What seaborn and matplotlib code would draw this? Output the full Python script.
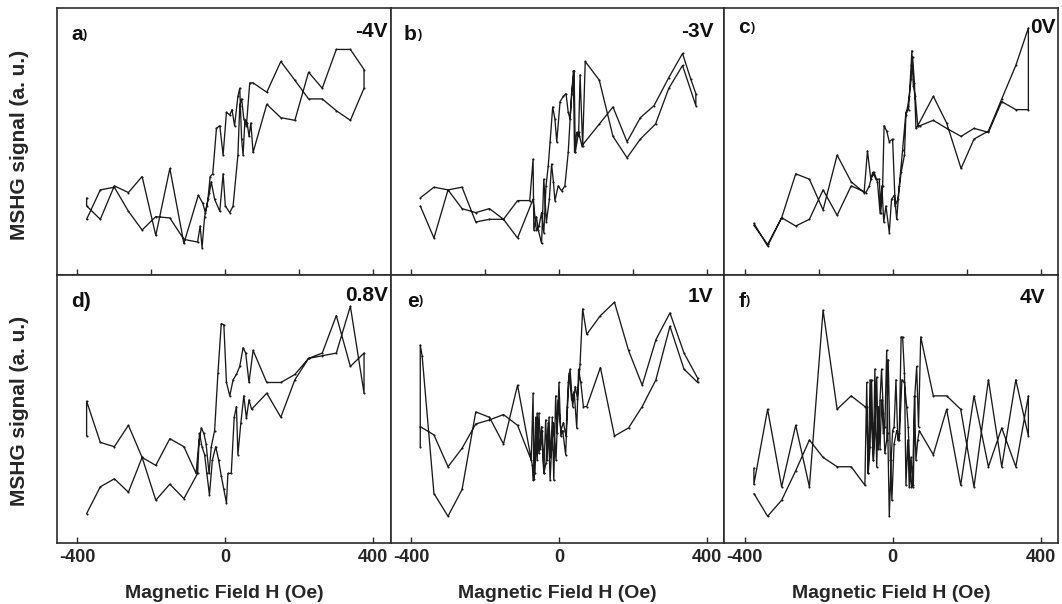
import matplotlib
matplotlib.use("Agg")
import matplotlib.pyplot as plt
import seaborn as sns
import pandas as pd

# ---------------- data (H in Oe, MSHG signal in a.u.) ----------------
# panel a) -4V
a_fwd_h = [-375, -338, -300, -262, -225, -188, -150, -112, -75,
           -68, -63, -56, -50, -43, -38, -29, -15, -6, 0, 12, 21, 34, 39, 44, 50, 57, 66,
           75, 112, 150, 188, 225, 262, 300, 338, 375]
a_fwd_s = [21, 32, 33, 24, 17, 22, 21.5, 13.5, 12.5,
           18.5, 10.4, 22, 26, 31, 35, 28.5, 24, 38, 26, 23.5, 26, 45, 63.5, 66, 58.5, 56, 72,
           72, 68.5, 80, 73, 66, 66, 61.6, 58, 70]
a_bwd_h = [375, 338, 300, 262, 225, 188, 150, 112, 75,
           69, 64, 59, 53, 48, 44, 39, 34, 25, 18, 12, 3, -6, -15, -24, -34, -41, -47, -54, -61, -73,
           -112, -150, -188, -225, -262, -300, -338, -375, -375]
a_bwd_s = [77, 84.5, 84.5, 70, 76, 58, 59, 64, 46,
           57, 52, 57, 58, 45, 51, 70, 67, 56, 62, 60, 61, 45, 56, 55, 38, 37, 28.5, 23.5, 27, 30,
           12, 40, 15, 37, 31, 33.5, 21, 26, 29]

# panel b) -3V
b_fwd_h = [-375, -338, -300, -262, -225, -188, -150, -112, -79,
           -70, -68, -61, -56, -47, -41, -34, -26, -20, -15, -11, -2, 7, 16, 25, 34, 41, 44, 53, 62,
           109, 146, 184, 220, 257, 297, 334, 356, 370]
b_fwd_s = [26, 14, 32, 25, 23.5, 25, 21, 28, 28,
           43.5, 17, 22, 17, 12, 36, 20, 28.5, 41.6, 35, 28, 33.5, 31.6, 33.5, 46, 68, 76.6, 46, 53.5, 48.5,
           56.6, 63, 50, 59, 63.5, 74, 83, 73.5, 68]
b_bwd_h = [370, 334, 297, 261, 220, 184, 146, 109, 71,
           64, 57, 53, 48, 42, 39, 30, 25, 19, 12, 3, -6, -11, -17, -24, -29, -35, -41, -47, -54, -61, -70,
           -112, -150, -188, -225, -262, -300, -338, -375]
b_bwd_s = [63.5, 78.5, 70, 56.6, 51, 44, 52, 73, 80,
           48.5, 75, 52, 53.5, 46, 76.6, 58.5, 61, 68, 67, 65, 50, 58.5, 63, 50, 41, 33.5, 16, 23.5, 18.5, 17, 28.5,
           14, 21, 21, 20, 33, 32, 33, 29]

# panel c) 0V
c_fwd_h = [-375, -338, -300, -262, -225, -188, -150, -112, -77,
           -68, -59, -50, -41, -34, -29, -24, -18, -9, -3, 5, 11, 18, 27, 36, 43, 50, 52, 56, 61, 68,
           110, 146, 185, 220, 259, 295, 333, 367]
c_fwd_s = [19.5, 11, 21.6, 38, 36, 24.5, 45, 35, 31,
           46.6, 36, 38.5, 35, 23.5, 33.5, 20, 26, 16, 28.5, 30, 21, 33.5, 47, 61, 62, 78.5, 84, 71, 67, 56,
           67, 57, 40, 51, 54, 66, 78.5, 92.5]
c_bwd_h = [367, 333, 295, 259, 220, 185, 146, 110, 74,
           68, 63, 59, 54, 50, 45, 41, 36, 32, 23, 14, 7, 0, -9, -16, -23, -27, -32, -36, -45, -54, -63, -72,
           -112, -150, -188, -225, -262, -300, -338, -375]
c_bwd_s = [62, 62, 65, 53.5, 55, 52, 55, 58, 56,
           56, 55, 72, 81.6, 73.5, 67, 63.5, 60, 45, 38.5, 28.5, 26, 51, 50, 54, 56, 33.5, 23.5, 36, 36, 38.5, 33.5, 31,
           33.5, 22.5, 32, 21, 18.5, 21.6, 11.6, 18.75]

# panel d) 0.8V
d_fwd_h = [-375, -338, -300, -262, -225, -188, -150, -112, -75,
           -70, -63, -56, -50, -43, -35, -26, -18, -11, -4, 3, 7, 16, 24, 30, 34, 42, 50, 57, 64, 71,
           112, 150, 188, 225, 262, 300, 338, 375]
d_fwd_s = [11, 21, 24, 19, 32, 16, 22, 16.6, 26,
           41, 36, 33, 26, 18, 31, 36, 31, 25, 20, 15, 26, 26, 47, 51, 33, 45, 55, 46.6, 53.5, 50,
           56, 47, 61, 69, 71, 85, 66, 71]
d_bwd_h = [375, 338, 300, 262, 225, 188, 150, 112, 75,
           64, 55, 48, 39, 30, 21, 12, 3, -4, -11, -20, -29, -38, -44, -52, -58, -65, -72, -79,
           -112, -150, -188, -225, -262, -300, -338, -375, -375]
d_bwd_s = [56, 88.5, 71, 70, 69, 63, 60, 60, 72,
           60, 71, 73, 66, 63, 61, 55, 60, 81.6, 82, 63.5, 42, 36, 26, 37, 41, 43, 37, 26,
           36, 39, 29, 32, 44, 36, 37.6, 53, 40]

# panel e) 1V
e_fwd_h = [-375, -338, -300, -262, -225, -188, -150, -112, -75,
           -70, -68, -63, -59, -54, -50, -45, -41, -36, -32, -27, -23, -18, -14, -9, -5, 0, 5, 10, 18,
           23, 28, 34, 41, 48, 53, 59, 66,
           75, 112, 150, 188, 225, 262, 300, 338, 375]
e_fwd_s = [43.5, 40.4, 28.5, 35.4, 44.5, 46, 48, 44, 31,
           56, 24, 47, 31, 48.5, 35, 42, 26, 46, 31, 47, 32, 47, 23.5, 55, 41, 60, 40, 42, 33,
           51, 63.5, 53.5, 56.6, 43, 65, 60, 51,
           51, 65.6, 40, 43, 51, 61, 81, 65, 60]
e_bwd_h = [375, 338, 300, 262, 225, 188, 150, 112, 75,
           64, 57, 50, 44, 37, 30, 25, 19, 12, 5, -2, -8, -15, -20, -24, -29, -35, -41, -47, -54, -59,
           -65, -70, -72,
           -112, -150, -188, -225, -262, -300, -338, -370, -375, -375]
e_bwd_s = [61.6, 71, 86, 76, 59, 72, 90, 85, 78,
           87.5, 67, 54, 58.5, 51, 65, 60, 40, 45, 42, 53.5, 31, 45, 35, 23.5, 45, 30, 26, 43.5, 33.5, 48.5,
           26, 23.5, 29,
           59, 37, 47, 49, 20, 10, 18.5, 70, 74, 36]

# panel f) 4V
f_fwd_h = [-375, -338, -300, -262, -225, -188, -150, -112, -75,
           -70, -66, -61, -57, -52, -48, -43, -39, -34, -30, -25, -21, -16, -13, -9, -4, 0, 4, 9, 14,
           18, 23, 27, 32, 36, 41, 45, 50, 54, 59, 63, 68, 72,
           110, 146, 184, 220, 259, 295, 333, 367]
f_fwd_s = [18.5, 10, 16, 27, 38.5, 32, 28.5, 28.5, 21.6,
           60, 26, 61, 45, 31, 65, 28.5, 51, 35, 53.5, 41, 43.5, 72, 41, 10, 31, 42, 43.5, 61, 38.5,
           41, 77, 77, 63.5, 21.6, 38.5, 21, 32, 21, 55, 31, 38.5, 42,
           33, 50, 21.6, 55, 28.5, 43, 28.5, 55]
f_bwd_h = [367, 333, 295, 259, 220, 184, 146, 110, 76,
           70, 65, 60, 56, 51, 47, 42, 38, 32, 25, 18, 11, 4, -2, -6, -12, -16, -21, -25, -30, -34,
           -39, -43, -48, -52, -57, -61, -66, -70,
           -75, -112, -150, -188, -225, -262, -300, -338, -375, -375]
f_bwd_s = [40, 61, 28.5, 61, 21, 50, 55, 55, 77,
           43.5, 66, 55, 21.6, 21, 27, 43.5, 51, 60, 61, 38.5, 42, 37, 16, 31, 68.5, 38.5, 33.5, 48.5, 65, 53.5,
           35, 62, 41, 31, 61, 36, 26, 51,
           51, 55, 50, 87, 21, 44, 21, 50, 22, 28]

panel_letters = ["a", "b", "c", "d", "e", "f"]
panel_voltages = ["-4V", "-3V", "0V", "0.8V", "1V", "4V"]
x_ticks_top = [-400, -200, 0, 200, 400]
x_ticks_bottom = [-400, 0, 400]
x_tick_labels_bottom = ["-400", "0", "400"]
x_label = "Magnetic Field H (Oe)"
y_label = "MSHG signal (a. u.)"

panels = [
    (a_fwd_h, a_fwd_s, a_bwd_h, a_bwd_s),
    (b_fwd_h, b_fwd_s, b_bwd_h, b_bwd_s),
    (c_fwd_h, c_fwd_s, c_bwd_h, c_bwd_s),
    (d_fwd_h, d_fwd_s, d_bwd_h, d_bwd_s),
    (e_fwd_h, e_fwd_s, e_bwd_h, e_bwd_s),
    (f_fwd_h, f_fwd_s, f_bwd_h, f_bwd_s),
]

# ---------------- style ----------------
sns.set_theme(style="ticks")
plt.rcParams["font.family"] = ["Liberation Sans", "DejaVu Sans"]
plt.rcParams["axes.unicode_minus"] = False

fig = plt.figure(figsize=(10.62, 6.04), dpi=100)
axes = fig.subplots(2, 3, gridspec_kw=dict(wspace=0, hspace=0))
fig.subplots_adjust(left=0.0537, right=0.9962, top=0.9868, bottom=0.101)

letter_pos = [(0.042, 0.88), (0.040, 0.88), (0.042, 0.905),
              (0.042, 0.884), (0.048, 0.884), (0.042, 0.884)]
volt_pos = [(0.991, 0.892), (0.967, 0.892), (0.993, 0.905),
            (0.991, 0.903), (0.967, 0.900), (0.961, 0.897)]

for i, ax in enumerate(axes.flat):
    fh, fs, bh, bs = panels[i]
    df = pd.DataFrame({"H": list(fh) + list(bh), "S": list(fs) + list(bs)})
    sns.lineplot(data=df, x="H", y="S", sort=False, estimator=None, ax=ax,
                 color="#1a1a1a", linewidth=0.95, marker="o", markersize=1.5,
                 markeredgewidth=0)
    ax.set_xlim(-455, 447)
    ax.set_ylim(0, 100)
    ax.set_yticks([])
    ax.set_ylabel("")
    for sp in ax.spines.values():
        sp.set_visible(True)
        sp.set_color("#2b2b2b")
        sp.set_linewidth(1.2)
    ax.tick_params(axis="x", direction="in", length=4, width=1, color="#2b2b2b",
                   labelsize=13, pad=4)
    if i < 3:
        ax.set_xticks(x_ticks_top)
        ax.set_xticklabels([])
        ax.set_xlabel("")
    else:
        ax.set_xticks(x_ticks_bottom)
        ax.set_xticklabels(x_tick_labels_bottom, fontweight="bold", fontsize=13)
        ax.set_xlabel(x_label, fontsize=14, fontweight="bold", labelpad=14)

    lx, ly = letter_pos[i]
    if panel_letters[i] == "d":
        ax.text(lx, ly, "d)", transform=ax.transAxes, fontsize=15,
                fontweight="bold", ha="left", va="baseline", color="#111111")
    else:
        t = ax.text(lx, ly, panel_letters[i], transform=ax.transAxes, fontsize=15,
                    fontweight="bold", ha="left", va="baseline", color="#111111")
        ax.annotate(")", xy=(1, 0), xycoords=t, xytext=(0.5, 2.2),
                    textcoords="offset points", fontsize=9, fontweight="bold",
                    ha="left", va="bottom", color="#111111")
    vx, vy = volt_pos[i]
    ax.text(vx, vy, panel_voltages[i], transform=ax.transAxes, fontsize=15,
            fontweight="bold", ha="right", va="baseline", color="#111111")

fig.text(20 / 1062, 1 - 145 / 604, y_label, rotation=90, ha="center", va="center",
         fontsize=15, fontweight="bold")
fig.text(20 / 1062, 1 - 411 / 604, y_label, rotation=90, ha="center", va="center",
         fontsize=15, fontweight="bold")

fig.savefig("out.png", dpi=100)
